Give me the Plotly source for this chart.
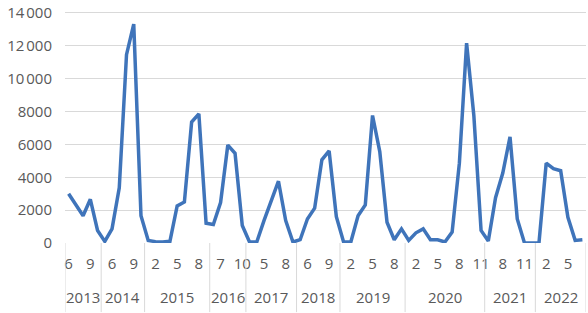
import plotly.graph_objects as go

years = ["2013"] * 5 + ["2014"] * 6 + ["2015"] * 9 + ["2016"] * 5 + ["2017"] * 7 + \
        ["2018"] * 6 + ["2019"] * 9 + ["2020"] * 11 + ["2021"] * 7 + ["2022"] * 7
months = ["6", "7", "8", "9", "10",
          "5", "6", "7", "8", "9", "10",
          "1", "2", "3", "4", "5", "6", "7", "8", "9",
          "6", "7", "8", "9", "10",
          "3", "4", "5", "6", "7", "8", "9",
          "5", "6", "7", "8", "9", "10",
          "1", "2", "3", "4", "5", "6", "7", "8", "9",
          "1", "2", "3", "4", "5", "6", "7", "8", "9", "10", "11",
          "6", "7", "8", "9", "10", "11", "12",
          "1", "2", "3", "4", "5", "6", "7"]
values = [3000, 2300, 1660, 2660, 760,
          100, 860, 3360, 11460, 13320, 1660,
          160, 80, 60, 100, 2260, 2500, 7360, 7860, 1200,
          1120, 2460, 5960, 5460, 1060,
          60, 60, 1360, 2560, 3760, 1360, 60,
          200, 1460, 2120, 5060, 5600, 1600,
          60, 60, 1660, 2320, 7760, 5560, 1260, 200, 860,
          160, 620, 860, 200, 200, 60, 660, 4860, 12160, 7760, 760,
          120, 2760, 4260, 6460, 1460, 0, 0,
          0, 4860, 4520, 4400, 1560, 160, 200]

y_tickvals = [0, 2000, 4000, 6000, 8000, 10000, 12000, 14000]
y_ticktext = ["0", "2000", "4000", "6000", "8000", "10\u202f000", "12\u202f000", "14\u202f000"]
month_label_step = 3

n = len(values)
idx = list(range(n))

fig = go.Figure(go.Scatter(
    x=idx, y=values, mode="lines",
    line=dict(color="#3F74BA", width=3.5),
    hoverinfo="skip",
))

font = dict(family="Open Sans", size=15, color="#595959")

# year groups
groups = []
start = 0
for i in range(1, n + 1):
    if i == n or years[i] != years[start]:
        groups.append((years[start], start, i - 1))
        start = i

plot_h = 313 - 5 - 70
shapes = []
annotations = []
bottom = -70 / plot_h
for yr, s, e in groups:
    annotations.append(dict(
        x=(s + e) / 2, y=0, xref="x", yref="paper", text=yr, showarrow=False,
        yanchor="middle", yshift=-54, font=font,
    ))
    shapes.append(dict(type="line", xref="x", yref="paper", x0=s - 0.5, x1=s - 0.5,
                       y0=0, y1=bottom, line=dict(color="#d9d9d9", width=1)))
shapes.append(dict(type="line", xref="x", yref="paper", x0=n - 0.5, x1=n - 0.5,
                   y0=0, y1=bottom, line=dict(color="#d9d9d9", width=1)))

fig.update_layout(
    width=588, height=313,
    margin=dict(l=65, r=2, t=5, b=70),
    paper_bgcolor="white", plot_bgcolor="white",
    showlegend=False,
    font=font,
    shapes=shapes,
    annotations=annotations,
)
tv = [i for i in idx if i % month_label_step == 0]
fig.update_xaxes(
    range=[-0.5, n - 0.5],
    tickmode="array", tickvals=tv, ticktext=[months[i] for i in tv],
    showgrid=False, zeroline=False, showline=False,
    ticks="", tickfont=font, ticklabelstandoff=10, tickangle=0,
    ticklabeloverflow="allow",
)
fig.update_yaxes(
    range=[0, 14300], tickvals=y_tickvals, ticktext=y_ticktext,
    showgrid=True, gridcolor="#d9d9d9", gridwidth=1,
    zeroline=False, showline=False, ticks="",
    ticklabelstandoff=12, tickfont=font, ticklabeloverflow="allow",
)

fig.write_html("out.html")
